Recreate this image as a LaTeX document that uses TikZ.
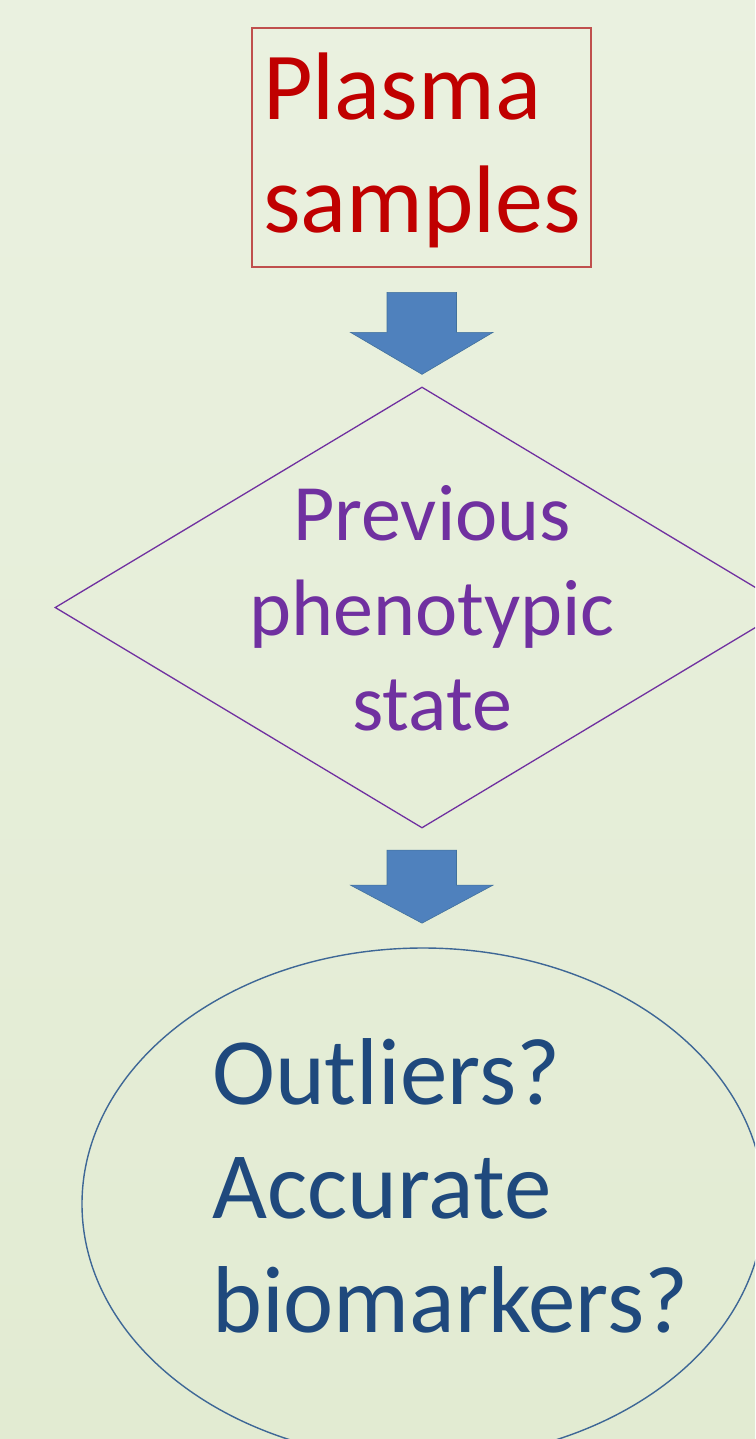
\documentclass[tikz,border=0pt]{standalone}
\usepackage{fontspec}
\setmainfont{Carlito}
\usetikzlibrary{shapes.geometric,calc}
\definecolor{bgtop}{HTML}{EAF1E0}
\definecolor{bgbot}{HTML}{E2EBD2}
\definecolor{redtext}{HTML}{C00000}
\definecolor{redline}{HTML}{C0504D}
\definecolor{purp}{HTML}{7030A0}
\definecolor{bluetext}{HTML}{1F497D}
\definecolor{blueline}{HTML}{3E6796}
\definecolor{arrowfill}{HTML}{4F81BD}
\definecolor{arrowline}{HTML}{41719C}
\tikzset{
  redtxt/.style={anchor=base west, inner sep=0pt, text=redtext, font=\fontsize{96}{115}\selectfont},
  purptxt/.style={anchor=base, inner sep=0pt, text=purp, font=\fontsize{80}{96}\selectfont},
  bluetxt/.style={anchor=base west, inner sep=0pt, text=bluetext, font=\fontsize{95}{114}\selectfont},
  blockarrow/.style={fill=arrowfill, draw=arrowline, line width=0.6pt, line join=miter},
}
\begin{document}
\begin{tikzpicture}[x=1pt,y=-1pt]
\useasboundingbox (0,0) rectangle (755,1439);
\clip (0,0) rectangle (755,1439);
\shade[top color=bgtop, bottom color=bgbot] (0,0) rectangle (755,1439);
% box
\node[draw=redline, line width=1.2pt, minimum width=339pt, minimum height=239pt, inner sep=0pt] (plasma) at (421.5,147.5) {};
\node[redtxt] (pl1) at (263,120) {Plasma};
\node[redtxt] (pl2) at (263,233) {samples};
% diamond
\node[diamond, draw=purp, line width=1.3pt, minimum width=734pt, minimum height=441pt, inner sep=0pt] (prev) at (422,607.5) {};
\node[purptxt] (pv1) at (432,540) {Previous};
\node[purptxt] (pv2) at (432,635) {phenotypic};
\node[purptxt] (pv3) at (432,730) {state};
% ellipse
\node[ellipse, draw=blueline, line width=1.4pt, minimum width=682pt, minimum height=512pt, inner sep=0pt] (out) at (423,1204) {};
\node[bluetxt] (o1) at (212,1104) {Outliers?};
\node[bluetxt] (o2) at (212,1218) {Accurate};
\node[bluetxt] (o3) at (212,1332) {biomarkers?};
% block arrows
\coordinate (t1) at ($(prev.north)+(0,-12)$);
\draw[blockarrow] ($(t1)+(-35,-82)$) -- ($(t1)+(34.5,-82)$) -- ($(t1)+(34.5,-42)$) -- ($(t1)+(71,-42)$) -- (t1) -- ($(t1)+(-71.5,-42)$) -- ($(t1)+(-35,-42)$) -- cycle;
\coordinate (t2) at ($(prev.south)+(0,94.5)$);
\draw[blockarrow] ($(t2)+(-35,-73)$) -- ($(t2)+(34.5,-73)$) -- ($(t2)+(34.5,-38)$) -- ($(t2)+(71,-38)$) -- (t2) -- ($(t2)+(-71.5,-38)$) -- ($(t2)+(-35,-38)$) -- cycle;
\end{tikzpicture}
\end{document}
